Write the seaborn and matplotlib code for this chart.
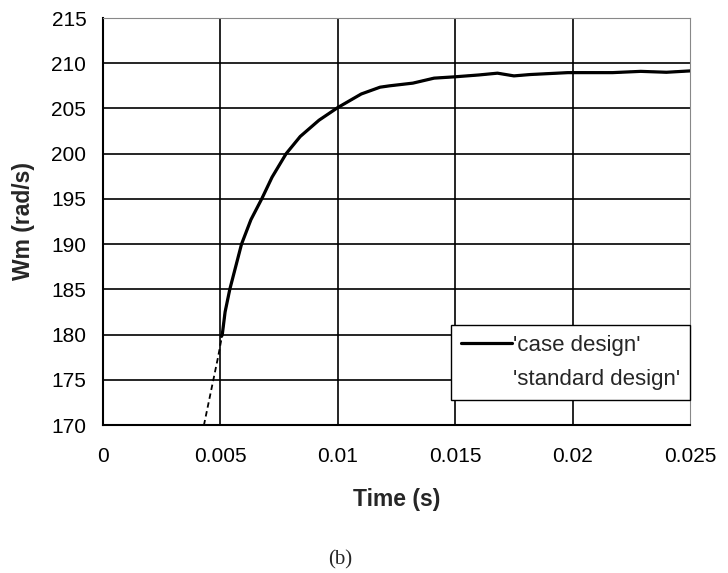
import matplotlib
matplotlib.use("Agg")
import matplotlib.pyplot as plt
from matplotlib.lines import Line2D
import seaborn as sns
import pandas as pd

# ---- data ----
case_t = [0.00505, 0.00508, 0.0052, 0.0054, 0.0056, 0.0059, 0.0063, 0.00676, 0.0072,
          0.0078, 0.0084, 0.0092, 0.0100, 0.0110, 0.0118, 0.0122, 0.0132, 0.0141,
          0.0150, 0.0160, 0.0168, 0.0175, 0.0182, 0.0198, 0.0217, 0.0229, 0.0240, 0.0250]
case_w = [179.8, 180.0, 182.5, 185.0, 187.0, 190.0, 192.7, 195.0, 197.4,
          200.0, 201.9, 203.7, 205.1, 206.6, 207.35, 207.5, 207.8, 208.35,
          208.5, 208.7, 208.9, 208.6, 208.75, 208.96, 208.96, 209.1, 209.0, 209.15]

std_t = [0.0042, 0.0043, 0.0045, 0.0047, 0.0049, 0.00508, 0.0052, 0.0054, 0.0056,
         0.0059, 0.0063, 0.00676, 0.0072, 0.0078, 0.0084, 0.0092, 0.0100, 0.0110,
         0.0118, 0.0122, 0.0132, 0.0141, 0.0150, 0.0160, 0.0168, 0.0175, 0.0182,
         0.0198, 0.0217, 0.0229, 0.0240, 0.0250]
std_w = [169.0, 170.0, 172.5, 175.0, 177.5, 180.0, 182.5, 185.0, 187.0,
         190.0, 192.7, 195.0, 197.4, 200.0, 201.9, 203.7, 205.1, 206.6,
         207.35, 207.5, 207.8, 208.35, 208.5, 208.7, 208.9, 208.6, 208.75,
         208.96, 208.96, 209.1, 209.0, 209.15]

x_ticks = [0, 0.005, 0.01, 0.015, 0.02, 0.025]
x_labels = ["0", "0.005", "0.01", "0.015", "0.02", "0.025"]
y_ticks = [170, 175, 180, 185, 190, 195, 200, 205, 210, 215]
y_labels = [str(v) for v in y_ticks]

case_df = pd.DataFrame({"t": case_t, "w": case_w})
std_df = pd.DataFrame({"t": std_t, "w": std_w})

sns.set_style("white")
plt.rcParams["font.family"] = ["Liberation Sans", "DejaVu Sans"]

fig = plt.figure(figsize=(7.28, 5.73), dpi=100)
ax = fig.add_axes([103 / 728, 1 - 425 / 573, 587 / 728, 407 / 573])

# grid (interior lines only; outer edges are the frame)
for xv in x_ticks[1:-1]:
    ax.axvline(xv, color="black", linewidth=1.2, zorder=1)
for yv in y_ticks[1:-1]:
    ax.axhline(yv, color="black", linewidth=1.2, zorder=1)

sns.lineplot(data=std_df, x="t", y="w", ax=ax, color="black", linewidth=1.3,
             linestyle=(0, (3, 2)), zorder=2, legend=False)
sns.lineplot(data=case_df, x="t", y="w", ax=ax, color="black", linewidth=2.3,
             zorder=3, legend=False)

ax.set_xlim(0, 0.025)
ax.set_ylim(170, 215)
ax.set_xticks(x_ticks)
ax.set_xticklabels(x_labels)
ax.set_yticks(y_ticks)
ax.set_yticklabels(y_labels)

ax.tick_params(axis="both", which="major", direction="out", length=5, width=1.2,
               color="black", labelsize=15, labelcolor="black")
ax.tick_params(axis="x", pad=11)
ax.tick_params(axis="y", pad=7)

for side in ["left", "bottom"]:
    ax.spines[side].set_color("black")
    ax.spines[side].set_linewidth(1.5)
for side in ["top", "right"]:
    ax.spines[side].set_color("#888888")
    ax.spines[side].set_linewidth(0.8)
    ax.spines[side].set_linestyle((0, (1, 1)))

ax.set_xlabel("Time (s)", fontsize=16.5, fontweight="bold", labelpad=16)
ax.set_ylabel("Wm (rad/s)", fontsize=16.5, fontweight="bold", labelpad=12)

handles = [Line2D([0], [0], color="black", linewidth=2.3),
           Line2D([0], [0], color="black", linewidth=0, alpha=0)]
leg = ax.legend(handles, ["'case design'", "'standard design'"],
                loc="lower right", bbox_to_anchor=(1.0, 0.061), fontsize=16,
                frameon=True, fancybox=False, framealpha=1, edgecolor="black",
                handlelength=2.3, handletextpad=0.05, labelspacing=0.6,
                borderpad=0.45, borderaxespad=0.0)
leg.get_frame().set_linewidth(1.0)

fig.text(340 / 728, 1 - 560 / 573, "(b)", ha="center", va="center",
         fontsize=15, family=["Liberation Serif", "DejaVu Serif"])

fig.savefig("out.png", dpi=100)
